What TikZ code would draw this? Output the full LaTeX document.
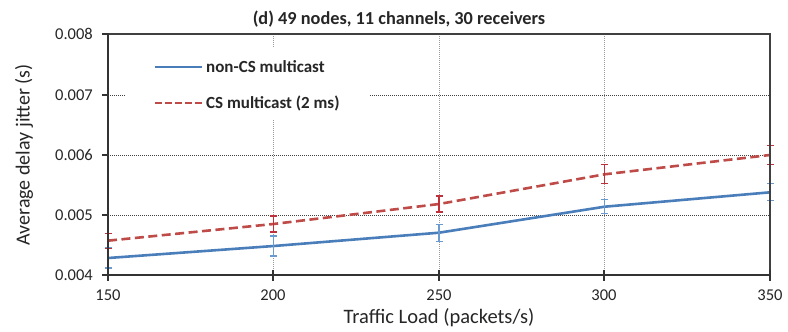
\documentclass[tikz,border=0pt]{standalone}
\usepackage{fontspec}
\setmainfont{Carlito}
\begin{document}
\begin{tikzpicture}[x=1pt,y=-1pt,
  axisline/.style={draw=black!80, line width=1.4pt},
  gridv/.style={draw=black!40, line width=0.8pt, dash pattern=on 1pt off 1pt},
  gridh/.style={draw=black!75, line width=0.9pt, dash pattern=on 1pt off 1pt},
  tickmark/.style={draw=black!80, line width=1.4pt},
  ylab/.style={anchor=east, font=\fontsize{16.5}{18}\selectfont, text=black!85, inner sep=0pt},
  xlab/.style={anchor=north, font=\fontsize{16.5}{18}\selectfont, text=black!85, inner sep=0pt},
  seriesA/.style={draw=blueA, line width=2.6pt},
  seriesB/.style={draw=redB, line width=2.6pt, dash pattern=on 9pt off 4.5pt},
  errA/.style={draw=blueE, line width=1.2pt},
  errB/.style={draw=redE, line width=1.2pt},
  legtext/.style={anchor=west, font=\fontsize{17}{19}\selectfont\bfseries, text=black!85, inner sep=0pt}
]
\definecolor{blueA}{HTML}{4A7EBB}
\definecolor{redB}{HTML}{BE4B48}
\definecolor{blueE}{HTML}{6A9BD0}
\definecolor{redE}{HTML}{C0303A}

% canvas
\fill[white] (0,0) rectangle (788,332);
\useasboundingbox (0,0) rectangle (788,332);

% title
\node[font=\fontsize{18.3}{20}\selectfont\bfseries, text=black!85] (title) at (399,19) {(d) 49 nodes, 11 channels, 30 receivers};

% grid lines
\foreach \gx in {273,439,604} \draw[gridv] (\gx,34) -- (\gx,275);
\foreach \gy in {95,155,215} \draw[gridh] (108,\gy) -- (770,\gy);

% legend background and entries
\fill[white] (125,48) rectangle (370,120);
\coordinate (la1) at (155,67);  \coordinate (la2) at (202,67);
\coordinate (lb1) at (155,103); \coordinate (lb2) at (202,103);
\draw[draw=blueA, line width=2.2pt] (la1) -- (la2);
\draw[draw=redB, line width=2.2pt, dash pattern=on 7pt off 3pt] (lb1) -- (lb2);
\node[legtext] (lta) at (206,67) {non-CS multicast};
\node[legtext] (ltb) at (206,103) {CS multicast (2 ms)};

% data area: x = load - 150, y = (jitter - 0.004)*1000
\begin{scope}[shift={(108pt,-275pt)}, x=3.31pt, y=60pt]
  % non-CS multicast
  \coordinate (a1) at (0,0.283);
  \coordinate (a2) at (50,0.483);
  \coordinate (a3) at (100,0.705);
  \coordinate (a4) at (150,1.138);
  \coordinate (a5) at (200,1.378);
  % CS multicast (2 ms)
  \coordinate (b1) at (0,0.572);
  \coordinate (b2) at (50,0.850);
  \coordinate (b3) at (100,1.183);
  \coordinate (b4) at (150,1.678);
  \coordinate (b5) at (200,2.000);

  \draw[seriesA] (a1) -- (a2) -- (a3) -- (a4) -- (a5);
  \draw[seriesB] (b1) -- (b2) -- (b3) -- (b4) -- (b5);

  % error bars
  \foreach \i/\e in {1/0.167,2/0.167,3/0.142,4/0.117,5/0.142} {
    \draw[errA] ([yshift=-\e*60pt]a\i) -- ([yshift=\e*60pt]a\i);
    \draw[errA] ([xshift=-3.5pt,yshift=-\e*60pt]a\i) -- ([xshift=3.5pt,yshift=-\e*60pt]a\i);
    \draw[errA] ([xshift=-3.5pt,yshift=\e*60pt]a\i) -- ([xshift=3.5pt,yshift=\e*60pt]a\i);
  }
  \foreach \i/\e in {1/0.125,2/0.133,3/0.133,4/0.158,5/0.160} {
    \draw[errB] ([yshift=-\e*60pt]b\i) -- ([yshift=\e*60pt]b\i);
    \draw[errB] ([xshift=-3.5pt,yshift=-\e*60pt]b\i) -- ([xshift=3.5pt,yshift=-\e*60pt]b\i);
    \draw[errB] ([xshift=-3.5pt,yshift=\e*60pt]b\i) -- ([xshift=3.5pt,yshift=\e*60pt]b\i);
  }
\end{scope}

% frame and axes
\coordinate (o) at (108,275);
\coordinate (tl) at (108,34);
\coordinate (tr) at (770,34);
\coordinate (br) at (770,275);
\draw[draw=black!75, line width=1.2pt] (tl) -- (tr) -- (br);
\draw[axisline] (tl) -- (o) -- (br);

% y ticks and labels
\foreach \ty/\tl in {34/0.008,95/0.007,155/0.006,215/0.005,275/0.004} {
  \draw[tickmark] (102,\ty) -- (109,\ty);
  \node[ylab] at (93,\ty) {\tl};
}
% x ticks and labels
\foreach \tx/\tl in {108/150,273/200,439/250,604/300,770/350} {
  \draw[tickmark] (\tx,270) -- (\tx,281);
  \node[xlab] at (\tx,290) {\tl};
}

% axis titles
\node[font=\fontsize{20.5}{22}\selectfont, text=black!85] (xtitle) at (439,318) {Traffic Load (packets/s)};
\node[font=\fontsize{20}{22}\selectfont, text=black!85, rotate=90] (ytitle) at (24,155) {Average delay jitter (s)};
\end{tikzpicture}
\end{document}
